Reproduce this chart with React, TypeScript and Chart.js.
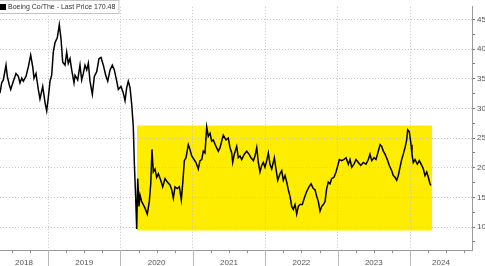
import { useEffect, useRef } from "react";
import { Chart, registerables } from "chart.js";

Chart.register(...registerables);

const SERIES_LABEL = "Boeing Co/The - Last Price";
const LAST_PRICE = 170.48;

// Dates as decimal years, prices in USD
const DATES = [
  2018.337, 2018.36, 2018.383, 2018.42, 2018.438, 2018.465, 2018.485, 2018.521, 2018.558, 2018.59,
  2018.613, 2018.637, 2018.659, 2018.696, 2018.728, 2018.761, 2018.789, 2018.807, 2018.834, 2018.866,
  2018.889, 2018.927, 2018.959, 2018.982, 2019.004, 2019.028, 2019.051, 2019.073, 2019.097, 2019.128,
  2019.156, 2019.18, 2019.203, 2019.235, 2019.258, 2019.28, 2019.304, 2019.327, 2019.359, 2019.373,
  2019.41, 2019.442, 2019.465, 2019.488, 2019.511, 2019.535, 2019.557, 2019.58, 2019.612, 2019.64,
  2019.673, 2019.704, 2019.732, 2019.764, 2019.797, 2019.825, 2019.857, 2019.888, 2019.916, 2019.949,
  2019.971, 2020.008, 2020.04, 2020.064, 2020.087, 2020.109, 2020.133, 2020.156, 2020.178, 2020.192,
  2020.211, 2020.225, 2020.239, 2020.257, 2020.271, 2020.294, 2020.316, 2020.34, 2020.371, 2020.399,
  2020.419, 2020.436, 2020.454, 2020.478, 2020.501, 2020.524, 2020.557, 2020.584, 2020.616, 2020.648,
  2020.685, 2020.709, 2020.731, 2020.754, 2020.786, 2020.814, 2020.841, 2020.86, 2020.883, 2020.906,
  2020.938, 2020.961, 2020.985, 2021.017, 2021.044, 2021.076, 2021.099, 2021.123, 2021.145, 2021.168,
  2021.192, 2021.214, 2021.238, 2021.261, 2021.283, 2021.32, 2021.352, 2021.376, 2021.399, 2021.421,
  2021.458, 2021.49, 2021.514, 2021.537, 2021.551, 2021.573, 2021.606, 2021.628, 2021.652, 2021.675,
  2021.711, 2021.744, 2021.776, 2021.804, 2021.836, 2021.859, 2021.883, 2021.905, 2021.928, 2021.952,
  2021.974, 2021.997, 2022.021, 2022.043, 2022.066, 2022.09, 2022.126, 2022.145, 2022.173, 2022.204,
  2022.228, 2022.25, 2022.274, 2022.297, 2022.319, 2022.343, 2022.366, 2022.388, 2022.412, 2022.435,
  2022.457, 2022.481, 2022.512, 2022.54, 2022.573, 2022.605, 2022.633, 2022.664, 2022.688, 2022.711,
  2022.734, 2022.757, 2022.78, 2022.803, 2022.826, 2022.849, 2022.871, 2022.895, 2022.918, 2022.95,
  2022.978, 2022.996, 2023.024, 2023.057, 2023.088, 2023.116, 2023.148, 2023.171, 2023.195, 2023.226,
  2023.254, 2023.286, 2023.319, 2023.355, 2023.392, 2023.424, 2023.447, 2023.471, 2023.503, 2023.53,
  2023.562, 2023.586, 2023.609, 2023.631, 2023.655, 2023.686, 2023.714, 2023.747, 2023.769, 2023.793,
  2023.816, 2023.838, 2023.862, 2023.885, 2023.907, 2023.931, 2023.954, 2023.968, 2023.99, 2024.014,
  2024.027, 2024.045, 2024.069, 2024.101, 2024.128, 2024.162, 2024.184, 2024.207, 2024.231, 2024.253,
  2024.276, 2024.29,
];

const PRICES = [
  326, 343, 348, 373, 354, 340, 332, 346, 359, 354,
  343, 351, 346, 354, 370, 390, 370, 351, 359, 332,
  316, 337, 310, 296, 318, 346, 356, 395, 411, 419,
  441, 417, 378, 373, 395, 376, 384, 365, 343, 356,
  348, 373, 348, 359, 373, 365, 376, 346, 324, 354,
  362, 384, 386, 373, 356, 346, 365, 373, 365, 346,
  332, 337, 326, 313, 335, 346, 335, 307, 269, 209,
  149, 97, 182, 135, 154, 143, 138, 132, 122, 143,
  173, 231, 193, 198, 184, 190, 179, 168, 182, 176,
  171, 163, 149, 168, 165, 168, 146, 173, 212, 217,
  239, 231, 220, 214, 209, 198, 212, 214, 228, 225,
  269, 253, 258, 245, 247, 236, 228, 234, 245, 255,
  247, 250, 234, 225, 209, 223, 236, 217, 220, 214,
  223, 228, 223, 217, 212, 220, 234, 209, 193, 204,
  209, 201, 212, 225, 206, 198, 217, 201, 179, 190,
  195, 179, 187, 176, 163, 152, 135, 130, 138, 122,
  135, 138, 138, 149, 160, 168, 173, 165, 163, 152,
  143, 127, 135, 138, 143, 165, 176, 173, 182, 184,
  193, 201, 214, 212, 214, 217, 206, 214, 201, 206,
  214, 209, 204, 209, 206, 214, 223, 212, 217, 214,
  228, 239, 236, 228, 223, 214, 204, 195, 187, 184,
  179, 187, 201, 214, 223, 234, 247, 264, 261, 239,
  223, 209, 214, 206, 212, 204, 198, 187, 193, 184,
  173, 170.48,
];

const YEARS = [2018, 2019, 2020, 2021, 2022, 2023, 2024];
const QUARTERS = [0.25, 0.5, 0.75];
const X_MIN = 2018.337;
const X_MAX = 2024.856;
const Y_MIN = 61.5;
const Y_MAX = 471.3;
const Y_LABEL_STEP = 50;
const Y_MINOR_STEP = 25;

// Highlighted (yellow) range
const HIGHLIGHT_START = 2020.229;
const HIGHLIGHT_END = 2024.304;
const HIGHLIGHT_LOW = 94.3;
const HIGHLIGHT_HIGH = 271.3;

const FONT = "'Liberation Sans', Arial, sans-serif";

const highlightPlugin = {
  id: "highlightBox",
  beforeDraw(chart: any) {
    const { ctx, scales } = chart;
    const x = scales.x;
    const y = scales.y;
    const l = x.getPixelForValue(HIGHLIGHT_START);
    const r = x.getPixelForValue(HIGHLIGHT_END);
    const t = y.getPixelForValue(HIGHLIGHT_HIGH);
    const b = y.getPixelForValue(HIGHLIGHT_LOW);
    ctx.save();
    ctx.fillStyle = "#FFED00";
    ctx.fillRect(l, t, r - l, b - t);
    ctx.restore();
  },
};

const decorPlugin = {
  id: "decor",
  afterDraw(chart: any) {
    const { ctx, chartArea, scales } = chart;
    const x = scales.x;
    const bottom = chartArea.bottom;
    ctx.save();
    ctx.lineWidth = 1;
    // year separators below the axis
    ctx.strokeStyle = "#b8b8b8";
    for (const yr of YEARS) {
      if (yr <= X_MIN || yr >= X_MAX) continue;
      const px = Math.round(x.getPixelForValue(yr)) + 0.5;
      ctx.beginPath();
      ctx.moveTo(px, bottom);
      ctx.lineTo(px, chart.height);
      ctx.stroke();
    }
    // quarter ticks
    ctx.strokeStyle = "#8a8a8a";
    for (const yr of YEARS) {
      for (const q of QUARTERS) {
        const v = yr + q;
        if (v <= X_MIN || v >= X_MAX) continue;
        const px = Math.round(x.getPixelForValue(v)) + 0.5;
        ctx.beginPath();
        ctx.moveTo(px, bottom);
        ctx.lineTo(px, bottom + 3);
        ctx.stroke();
      }
    }
    // legend box
    const text = `${SERIES_LABEL} ${LAST_PRICE.toFixed(2)}`;
    ctx.font = `7px ${FONT}`;
    const w = ctx.measureText(text).width;
    ctx.fillStyle = "#ffffff";
    ctx.fillRect(0, 0, w + 12, 14);
    ctx.strokeStyle = "#c4c4c4";
    ctx.strokeRect(-0.5, 0.5, w + 12, 13);
    ctx.fillStyle = "#000000";
    ctx.fillRect(0, 4, 6, 6);
    ctx.fillStyle = "#333333";
    ctx.textBaseline = "middle";
    ctx.textAlign = "left";
    ctx.fillText(text, 8, 7.5);
    ctx.restore();
  },
};

export default function App() {
  const ref = useRef<HTMLCanvasElement | null>(null);

  useEffect(() => {
    if (!ref.current) return;
    const points = DATES.map((d, i) => ({ x: d, y: PRICES[i] }));
    const chart = new Chart(ref.current, {
      type: "line",
      data: {
        datasets: [
          {
            label: SERIES_LABEL,
            data: points,
            borderColor: "#000000",
            borderWidth: 1.5,
            pointRadius: 0,
            tension: 0,
            fill: false,
          },
        ],
      },
      options: {
        animation: false,
        responsive: false,
        maintainAspectRatio: false,
        layout: { padding: 0 },
        plugins: { legend: { display: false }, tooltip: { enabled: false } },
        scales: {
          x: {
            type: "linear",
            position: "bottom",
            min: X_MIN,
            max: X_MAX,
            afterBuildTicks(scale: any) {
              const vals: number[] = [];
              for (const yr of YEARS) {
                if (yr > X_MIN && yr < X_MAX) vals.push(yr);
                const a = Math.max(yr, X_MIN);
                const b = Math.min(yr + 1, X_MAX);
                if (b > a) vals.push((a + b) / 2);
              }
              vals.sort((p, q) => p - q);
              scale.ticks = vals.map((v) => ({ value: v }));
            },
            afterFit(scale: any) {
              scale.height = 16;
            },
            ticks: {
              autoSkip: false,
              maxRotation: 0,
              padding: 8,
              color: "#555555",
              font: { family: FONT, size: 8 },
              callback: (value: any) =>
                Number.isInteger(value) ? "" : String(Math.floor(value)),
            },
            grid: {
              drawTicks: false,
              color: (ctx: any) =>
                ctx.tick && Number.isInteger(ctx.tick.value) ? "#c4c4c4" : "rgba(0,0,0,0)",
              lineWidth: 1,
            },
            border: { display: true, color: "#9a9a9a", width: 1, dash: [1, 2] },
          },
          y: {
            type: "linear",
            position: "right",
            min: Y_MIN,
            max: Y_MAX,
            afterBuildTicks(scale: any) {
              const vals: number[] = [];
              for (let v = Math.ceil(Y_MIN / Y_MINOR_STEP) * Y_MINOR_STEP; v <= Y_MAX; v += Y_MINOR_STEP) {
                vals.push(v);
              }
              scale.ticks = vals.map((v) => ({ value: v }));
            },
            afterFit(scale: any) {
              scale.width = 28;
            },
            ticks: {
              autoSkip: false,
              padding: 2,
              color: "#555555",
              font: { family: FONT, size: 8 },
              callback: (value: any) => (value % Y_LABEL_STEP === 0 ? String(value) : ""),
            },
            grid: {
              drawTicks: true,
              tickLength: 3,
              tickColor: "#777777",
              color: (ctx: any) =>
                ctx.tick && ctx.tick.value % Y_LABEL_STEP === 0 ? "#c4c4c4" : "rgba(0,0,0,0)",
              lineWidth: 1,
            },
            border: { display: true, color: "#9a9a9a", width: 1, dash: [1, 2] },
          },
        },
      },
      plugins: [highlightPlugin, decorPlugin],
    });
    return () => chart.destroy();
  }, []);

  return (
    <div
      style={{
        position: "absolute",
        left: 0,
        top: 0,
        width: 485,
        height: 266,
        overflow: "hidden",
        background: "#ffffff",
      }}
    >
      <canvas ref={ref} width={500} height={266} style={{ display: "block" }} />
    </div>
  );
}
